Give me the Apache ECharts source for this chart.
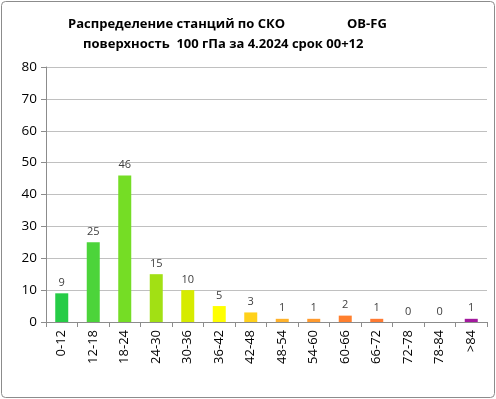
<!DOCTYPE html>
<html><head><meta charset="utf-8">
<script src="https://cdn.jsdelivr.net/npm/echarts@6/dist/echarts.min.js"></script>
<style>html,body{margin:0;padding:0;background:#fff}#c{width:496px;height:399px}</style>
</head><body><div id="c"></div>
<script>
const categories = ['0-12','12-18','18-24','24-30','30-36','36-42','42-48','48-54','54-60','60-66','66-72','72-78','78-84','>84'];
const counts = [9,25,46,15,10,5,3,1,1,2,1,0,0,1];
const barColors = ['#26CC46','#4CD43A','#75DD25','#A2E014','#D6EB00','#FFFF00','#FFD11A','#FFB22A','#FF9A2E','#FF7F2E','#FF7A32','#FF7A32','#C03080','#A3199E'];
const yTicks = {min:0, max:80, interval:10};
const titleLine1a = 'Распределение станций по СКО';
const titleLine1b = 'OB-FG';
const titleLine2 = 'поверхность  100 гПа за 4.2024 срок 00+12';

const chart = echarts.init(document.getElementById('c'), null, {renderer:'canvas'});
const font = '"Open Sans", sans-serif';
const tStyle = {fontFamily:font, fontSize:13, fontWeight:'bold', color:'#000'};
chart.setOption({
  animation:false,
  graphic:[{type:'rect', shape:{x:1.5,y:1.5,width:493,height:396,r:4}, style:{fill:'none',stroke:'#8c8c8c',lineWidth:1}, silent:true}],
  title:[
    {text:titleLine1a, left:68, top:18, padding:0, textStyle:tStyle},
    {text:titleLine1b, left:347, top:18, padding:0, textStyle:tStyle},
    {text:titleLine2, left:83, top:38, padding:0, textStyle:tStyle}
  ],
  grid:{left:46, right:9, top:67, bottom:77},
  xAxis:{
    type:'category', data:categories,
    axisLine:{lineStyle:{color:'#8c8c8c'}},
    axisTick:{show:true, interval:0, length:5, lineStyle:{color:'#8c8c8c'}},
    axisLabel:{interval:0, rotate:90, margin:8, fontFamily:font, fontSize:13, color:'#000'}
  },
  yAxis:{
    type:'value', min:yTicks.min, max:yTicks.max, interval:yTicks.interval,
    axisLine:{show:true, lineStyle:{color:'#8c8c8c'}},
    axisTick:{show:true, length:5, lineStyle:{color:'#8c8c8c'}},
    axisLabel:{fontFamily:font, fontSize:13.5, color:'#000', margin:9},
    splitLine:{lineStyle:{color:'#c0c0c0', width:1}}
  },
  series:[{
    type:'bar', barWidth:13,
    data:counts.map((v,i)=>({value:v, itemStyle:{color:barColors[i]}})),
    label:{show:true, position:'top', distance:5, fontFamily:font, fontSize:11, color:'#404040'}
  }]
});
</script></body></html>
